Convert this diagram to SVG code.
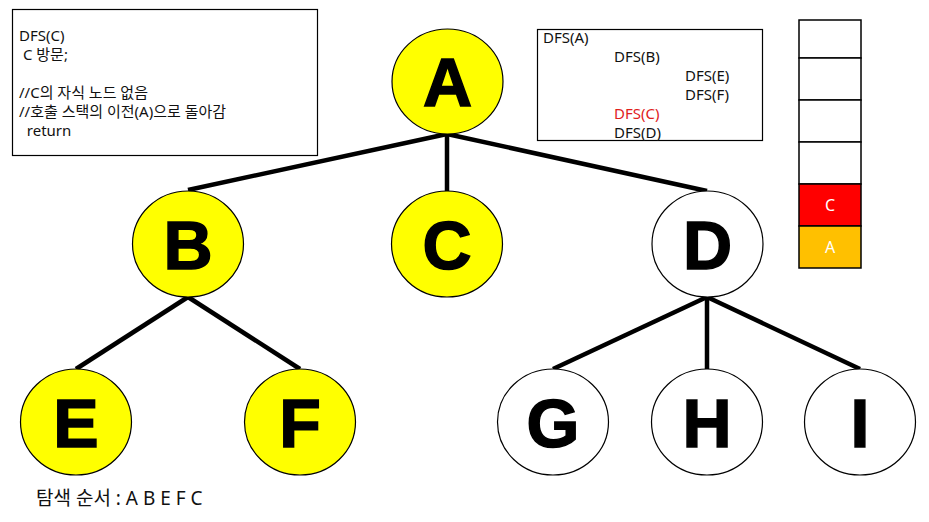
<svg xmlns="http://www.w3.org/2000/svg" width="929" height="522" viewBox="0 0 929 522">
  <style>
    .node ellipse { stroke: #000; stroke-width: 1.2; }
    .visited ellipse { fill: #FFFF00; }
    .unvisited ellipse { fill: #FFFFFF; }
    .node text { font-family: "Liberation Sans", Arial, sans-serif; font-weight: bold; font-size: 68px; text-anchor: middle; fill: #000; stroke: #000; stroke-width: 1.5; }
    .edge { stroke: #000; stroke-width: 4.5; fill: none; }
    .box { fill: #fff; stroke: #000; stroke-width: 1.2; }
    .code { font-family: "Noto Sans", "Noto Sans CJK KR", sans-serif; font-size: 15px; fill: #111; }
    .current { fill: #E0201C; }
    .stack-cell { stroke: #000; stroke-width: 1.5; }
    .stack-label { font-family: "Noto Sans", "Noto Sans CJK KR", sans-serif; font-size: 16px; fill: #fff; text-anchor: middle; }
  </style>

  <rect width="929" height="522" fill="#fff"/>

  <!-- connectors -->
  <g id="edges">
    <line class="edge" x1="447" y1="134" x2="188" y2="190"/>
    <line class="edge" x1="447" y1="134" x2="447" y2="191"/>
    <line class="edge" x1="447" y1="134" x2="707" y2="191"/>
    <line class="edge" x1="188" y1="297" x2="76" y2="369"/>
    <line class="edge" x1="188" y1="297" x2="300" y2="369"/>
    <line class="edge" x1="707" y1="297" x2="553" y2="369"/>
    <line class="edge" x1="707" y1="297" x2="707" y2="369"/>
    <line class="edge" x1="707" y1="297" x2="860" y2="369"/>
  </g>

  <!-- tree nodes -->
  <g id="node-A" class="node visited">
    <ellipse cx="447.5" cy="81.5" rx="55.5" ry="52.5"/>
    <text x="447.5" y="106">A</text>
  </g>
  <g id="node-B" class="node visited">
    <ellipse cx="188" cy="244" rx="55.5" ry="53"/>
    <text x="188" y="268.5">B</text>
  </g>
  <g id="node-C" class="node visited">
    <ellipse cx="447" cy="244" rx="55.5" ry="53"/>
    <text x="447" y="268.5">C</text>
  </g>
  <g id="node-D" class="node unvisited">
    <ellipse cx="707.5" cy="244" rx="55.5" ry="53"/>
    <text x="707.5" y="268.5">D</text>
  </g>
  <g id="node-E" class="node visited">
    <ellipse cx="76" cy="422" rx="55.5" ry="53"/>
    <text x="76" y="446.5">E</text>
  </g>
  <g id="node-F" class="node visited">
    <ellipse cx="300" cy="422" rx="55.5" ry="53"/>
    <text x="300" y="446.5">F</text>
  </g>
  <g id="node-G" class="node unvisited">
    <ellipse cx="553" cy="422" rx="55.5" ry="53"/>
    <text x="553" y="446.5">G</text>
  </g>
  <g id="node-H" class="node unvisited">
    <ellipse cx="707" cy="422" rx="55.5" ry="53"/>
    <text x="707" y="446.5">H</text>
  </g>
  <g id="node-I" class="node unvisited">
    <ellipse cx="860" cy="422" rx="55.5" ry="53"/>
    <text x="860" y="446.5">I</text>
  </g>

  <!-- current call description -->
  <g id="code-box">
    <rect class="box" x="12.5" y="9.5" width="305" height="146"/>
    <text class="code" x="19" y="41">DFS(C)</text>
    <text class="code" x="19" y="60" xml:space="preserve"> C 방문;</text>
    <text class="code" x="19" y="98">//C의 자식 노드 없음</text>
    <text class="code" x="19" y="117">//호출 스택의 이전(A)으로 돌아감</text>
    <text class="code" x="19" y="136" xml:space="preserve">  return</text>
  </g>

  <!-- call trace -->
  <g id="trace-box">
    <rect class="box" x="537.5" y="29.5" width="225" height="111"/>
    <text class="code" x="543" y="43">DFS(A)</text>
    <text class="code" x="614" y="62">DFS(B)</text>
    <text class="code" x="685" y="81">DFS(E)</text>
    <text class="code" x="685" y="100">DFS(F)</text>
    <text class="code current" x="614" y="119">DFS(C)</text>
    <text class="code" x="614" y="138">DFS(D)</text>
  </g>

  <!-- call stack -->
  <g id="stack">
    <rect class="stack-cell" x="799" y="20" width="62" height="38" fill="#fff"/>
    <rect class="stack-cell" x="799" y="58" width="62" height="42" fill="#fff"/>
    <rect class="stack-cell" x="799" y="100" width="62" height="42" fill="#fff"/>
    <rect class="stack-cell" x="799" y="142" width="62" height="42" fill="#fff"/>
    <rect class="stack-cell" x="799" y="184" width="62" height="42" fill="#FF0000"/>
    <rect class="stack-cell" x="799" y="226" width="62" height="42" fill="#FFC000"/>
    <text class="stack-label" x="830" y="211">C</text>
    <text class="stack-label" x="830" y="253">A</text>
  </g>

  <!-- visit order -->
  <g id="order">
    <text class="code" x="36" y="505" style="font-size:19px">탐색 순서 : A B E F C</text>
  </g>
</svg>
